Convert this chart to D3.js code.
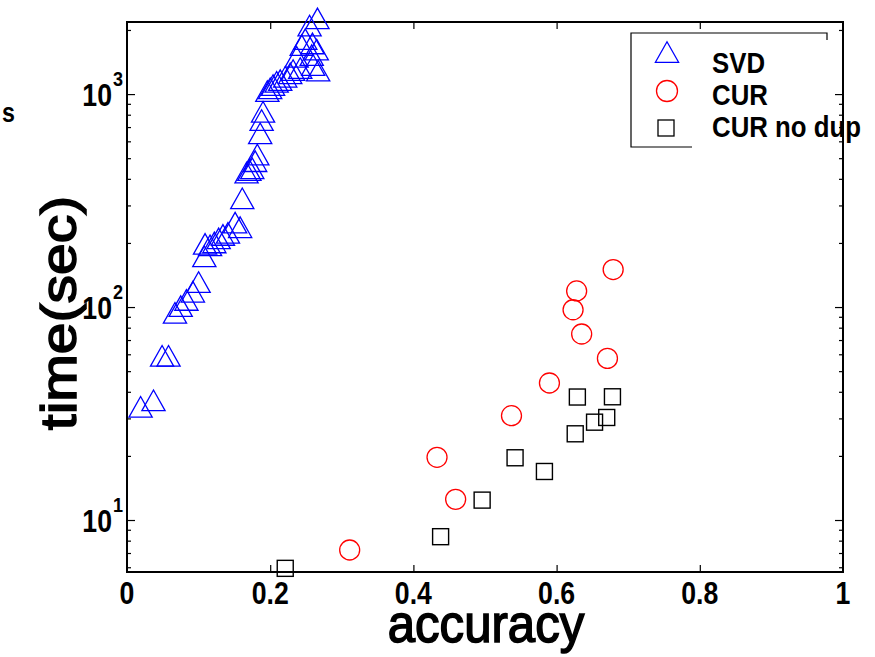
<!DOCTYPE html>
<html>
<head>
<meta charset="utf-8">
<script src="https://cdn.jsdelivr.net/npm/d3@7"></script>
<style>
  html, body { margin: 0; padding: 0; background: #fff; }
  svg { display: block; }
  text { font-family: "Liberation Sans", Arial, Helvetica, sans-serif; }
</style>
</head>
<body>
<svg id="chart" width="875" height="657"></svg>
<script>
// ---------------- data ----------------
const svdAccuracy = [0.019,0.037,0.049,0.058,0.067,0.075,0.083,0.092,0.100,0.108,0.109,0.116,0.122,0.128,0.134,0.141,0.151,0.158,0.161,0.167,0.171,0.175,0.179,0.182,0.186,0.188,0.190,0.196,0.200,0.204,0.209,0.214,0.221,0.228,0.232,0.242,0.237,0.244,0.249,0.255,0.258,0.259,0.260,0.265,0.266,0.267];
const svdTime     = [34,36.5,59,59,94,101,108,118,131,173,198,195,201,210,218,223,249,237,324,428,440,448,484,520,654,755,826,1033,1064,1102,1142,1163,1206,1251,1297,1325,1497,1698,1811,2098,1524,1729,1368,1618,2266,1289];

const curAccuracy = [0.311,0.433,0.459,0.537,0.590,0.623,0.628,0.635,0.671,0.679];
const curTime     = [7.23,19.7,12.5,30.9,44.0,97.1,119,74.7,57.4,150];

const curNoDupAccuracy = [0.221,0.438,0.496,0.542,0.583,0.626,0.629,0.653,0.670,0.678];
const curNoDupTime     = [5.93,8.35,12.4,19.6,16.9,25.4,37.8,28.8,30.3,37.9];

const xTicks = [0, 0.2, 0.4, 0.6, 0.8, 1];
const xTickLabels = ["0", "0.2", "0.4", "0.6", "0.8", "1"];
const yTicks = [10, 100, 1000];
const yTickBase = ["10", "10", "10"];
const yTickExp = ["1", "2", "3"];
const legendLabels = ["SVD", "CUR", "CUR no dup"];
const xLabel = "accuracy";
const yLabel = "time(sec)";

// ---------------- layout ----------------
const L = 127, R = 843, T = 22, B = 572;
const SX = 0.86; // horizontal squeeze of text in the reference
const svg = d3.select("#chart");
svg.append("rect").attr("width", 875).attr("height", 657).attr("fill", "#fff");

const x = d3.scaleLinear().domain([0, 1]).range([L, R]);
const y = d3.scaleLog().domain([5.7, 2180]).range([B, T]);

const majorY = yTicks;
const minorY = y.ticks().filter(v => !majorY.includes(v));

// axes
function styleAxis(g) {
  g.select(".domain").remove();
  g.selectAll(".tick line").attr("stroke", "#000").attr("stroke-width", 1.2);
}
svg.append("g").attr("transform", `translate(0,${B})`)
  .call(d3.axisBottom(x).tickValues(xTicks.slice(1, -1)).tickSize(-7).tickFormat(""))
  .call(styleAxis);
svg.append("g").attr("transform", `translate(0,${T})`)
  .call(d3.axisTop(x).tickValues(xTicks.slice(1, -1)).tickSize(-7).tickFormat(""))
  .call(styleAxis);
svg.append("g").attr("transform", `translate(${L},0)`)
  .call(d3.axisLeft(y).tickValues(majorY).tickSize(-8).tickFormat(""))
  .call(styleAxis);
svg.append("g").attr("transform", `translate(${L},0)`)
  .call(d3.axisLeft(y).tickValues(minorY).tickSize(-4).tickFormat(""))
  .call(styleAxis);
svg.append("g").attr("transform", `translate(${R},0)`)
  .call(d3.axisRight(y).tickValues(majorY).tickSize(-8).tickFormat(""))
  .call(styleAxis);
svg.append("g").attr("transform", `translate(${R},0)`)
  .call(d3.axisRight(y).tickValues(minorY).tickSize(-4).tickFormat(""))
  .call(styleAxis);

// box
svg.append("rect").attr("x", L).attr("y", T).attr("width", R - L).attr("height", B - T)
  .attr("fill", "none").attr("stroke", "#000").attr("stroke-width", 2);

// tick labels
function sqText(px, py, str, size, anchor, weight, sx) {
  const g = svg.append("g").attr("transform", `translate(${px},${py}) scale(${sx || SX},1)`);
  return g.append("text").attr("x", 0).attr("y", 0)
    .attr("text-anchor", anchor).attr("font-size", size)
    .attr("font-weight", weight || "bold").attr("fill", "#000").text(str);
}
xTicks.forEach((v, i) => sqText(x(v), 604, xTickLabels[i], 31, "middle"));
yTicks.forEach((v, i) => {
  sqText(L - 15, y(v) + 12, yTickBase[i], 31, "end");
  sqText(L - 14, y(v) - 8, yTickExp[i], 21, "start");
});

// axis labels
sqText(486, 642, xLabel, 54, "middle", "normal", 0.91)
  .attr("stroke", "#000").attr("stroke-width", 1.6);
svg.append("g").attr("transform", `translate(76,313) scale(0.87,1) rotate(-90)`)
  .append("text").attr("text-anchor", "middle").attr("font-size", 57)
  .attr("font-weight", "normal").attr("fill", "#000")
  .attr("stroke", "#000").attr("stroke-width", 1.8).text(yLabel);

// stray clipped label at left
sqText(2, 122, "s", 27, "start");

// markers
const tri = (cx, cy) => `M${cx},${cy - 10.3}L${cx + 11.6},${cy + 10.3}L${cx - 11.6},${cy + 10.3}Z`;
const svdData = svdAccuracy.map((a, i) => ({ a, t: svdTime[i] }));
const curData = curAccuracy.map((a, i) => ({ a, t: curTime[i] }));
const nodupData = curNoDupAccuracy.map((a, i) => ({ a, t: curNoDupTime[i] }));

svg.append("g").selectAll("path").data(svdData).join("path")
  .attr("d", d => tri(x(d.a), y(d.t)))
  .attr("fill", "none").attr("stroke", "#0000ff").attr("stroke-width", 1.3);
svg.append("g").selectAll("circle").data(curData).join("circle")
  .attr("cx", d => x(d.a)).attr("cy", d => y(d.t)).attr("r", 10)
  .attr("fill", "none").attr("stroke", "#ff0000").attr("stroke-width", 1.3);
svg.append("g").selectAll("rect").data(nodupData).join("rect")
  .attr("x", d => x(d.a) - 8).attr("y", d => y(d.t) - 8).attr("width", 16).attr("height", 16)
  .attr("fill", "none").attr("stroke", "#000").attr("stroke-width", 1.4);

// legend
const lg = svg.append("g");
lg.append("rect").attr("x", 631).attr("y", 33).attr("width", 196).attr("height", 114)
  .attr("fill", "#fff").attr("stroke", "none");
lg.append("path").attr("d", "M827,40V33H631V147H692")
  .attr("fill", "none").attr("stroke", "#000").attr("stroke-width", 1.2);
lg.append("path").attr("d", tri(667, 52)).attr("fill", "none").attr("stroke", "#0000ff").attr("stroke-width", 1.3);
lg.append("circle").attr("cx", 667).attr("cy", 91).attr("r", 10.5).attr("fill", "none").attr("stroke", "#ff0000").attr("stroke-width", 1.3);
lg.append("rect").attr("x", 658).attr("y", 120).attr("width", 16).attr("height", 16).attr("fill", "none").attr("stroke", "#000").attr("stroke-width", 1.3);
const legendBase = [73, 105, 137];
legendLabels.forEach((s, i) => sqText(712, legendBase[i], s, 30, "start"));
</script>
</body>
</html>
